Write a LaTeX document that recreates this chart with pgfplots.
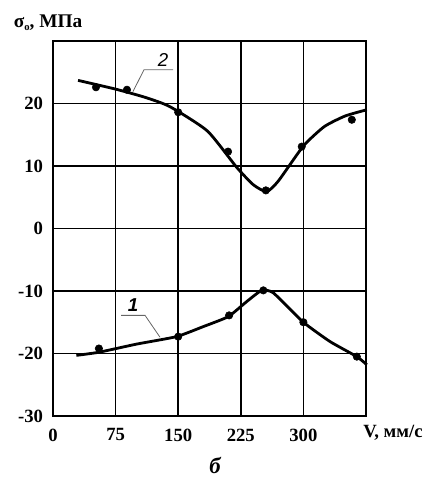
\documentclass[border=0pt]{standalone}
\usepackage{fontspec}
\setmainfont{Liberation Serif}
\newfontfamily\arial{Liberation Sans}
\usepackage{pgfplots}
\pgfplotsset{compat=1.18}

\begin{document}
\begin{tikzpicture}
\begin{axis}[
  scale only axis, width=234.75pt, height=281.25pt,
  xmin=0, xmax=375, ymin=-30, ymax=30,
  xtick={0,75,...,375}, xticklabels={0,75,150,225,300,},
  ytick={-30,-20,...,30}, yticklabels={-30,-20,-10,0,10,20,},
  grid=major, grid style={black, line width=1.2pt},
  axis line style={line width=1.2pt},
  major tick length=0pt,
  tick label style={font=\fontsize{14}{16}\selectfont\bfseries},
  /pgf/number format/assume math mode=true,
  yticklabel style={xshift=-4pt},
  xticklabel style={yshift=-6pt},
  clip=false,
]
% curve 2 (upper)
\addplot[black, line width=2.1pt, smooth, tension=0.35] coordinates {
  (30,23.7)(75,22.3)(110,21.0)(140,19.5)(185,15.6)(220,9.8)
  (240,7.0)(256,5.9)(270,7.6)(300,13.2)(325,16.3)(350,18.0)(376,19.0)
};
\addplot[only marks, mark=*, mark size=2.8pt, black] coordinates {
  (51.5,22.6)(88.6,22.2)(150,18.6)(209.7,12.3)(255,6.1)(298,13.1)(358,17.4)
};
% curve 1 (lower)
\addplot[black, line width=2.1pt, smooth, tension=0.3] coordinates {
  (28,-20.3)(55,-19.8)(100,-18.5)(148,-17.3)(180,-15.7)(210,-14.1)
  (232,-11.7)(250,-9.9)(264,-10.3)(300,-15.0)(332,-18.1)(364,-20.5)(376,-21.8)
};
\addplot[only marks, mark=*, mark size=2.8pt, black] coordinates {
  (55,-19.2)(150,-17.3)(211,-13.9)(252,-9.9)(300,-15.0)(364,-20.5)
};
% curve labels with leaders
\draw[black!60, line width=0.6pt] (axis cs:143.8,25.4) -- (axis cs:109,25.4) -- (axis cs:95.8,21.9);
\node[font=\arial\itshape\fontsize{14}{16}\selectfont] at (axis cs:131.8,26.9) {2};
\draw[black!60, line width=0.6pt] (axis cs:81.5,-13.9) -- (axis cs:110.3,-13.9) -- (axis cs:128.2,-17.4);
\node[font=\arial\bfseries\itshape\fontsize{14}{16}\selectfont] at (axis cs:95.8,-12.2) {1};
% axis titles
\node[font=\fontsize{14.5}{16}\selectfont\bfseries] at ([xshift=-3.75pt,yshift=13.5pt]rel axis cs:0,1)
  {σ\raisebox{-0.3ex}{\fontsize{8}{9}\selectfont о}, МПа};
\node[font=\fontsize{14}{16}\selectfont\bfseries] at ([xshift=255pt,yshift=-12.75pt]rel axis cs:0,0) {V, мм/с};
\node[font=\fontsize{17}{19}\selectfont\bfseries\itshape] at ([xshift=121.5pt,yshift=-36.75pt]rel axis cs:0,0) {б};
% page frame
\path ([xshift=-39.75pt,yshift=-47.25pt]rel axis cs:0,0) rectangle ([xshift=47.25pt,yshift=30.75pt]rel axis cs:1,1);
\end{axis}
\end{tikzpicture}
\end{document}
